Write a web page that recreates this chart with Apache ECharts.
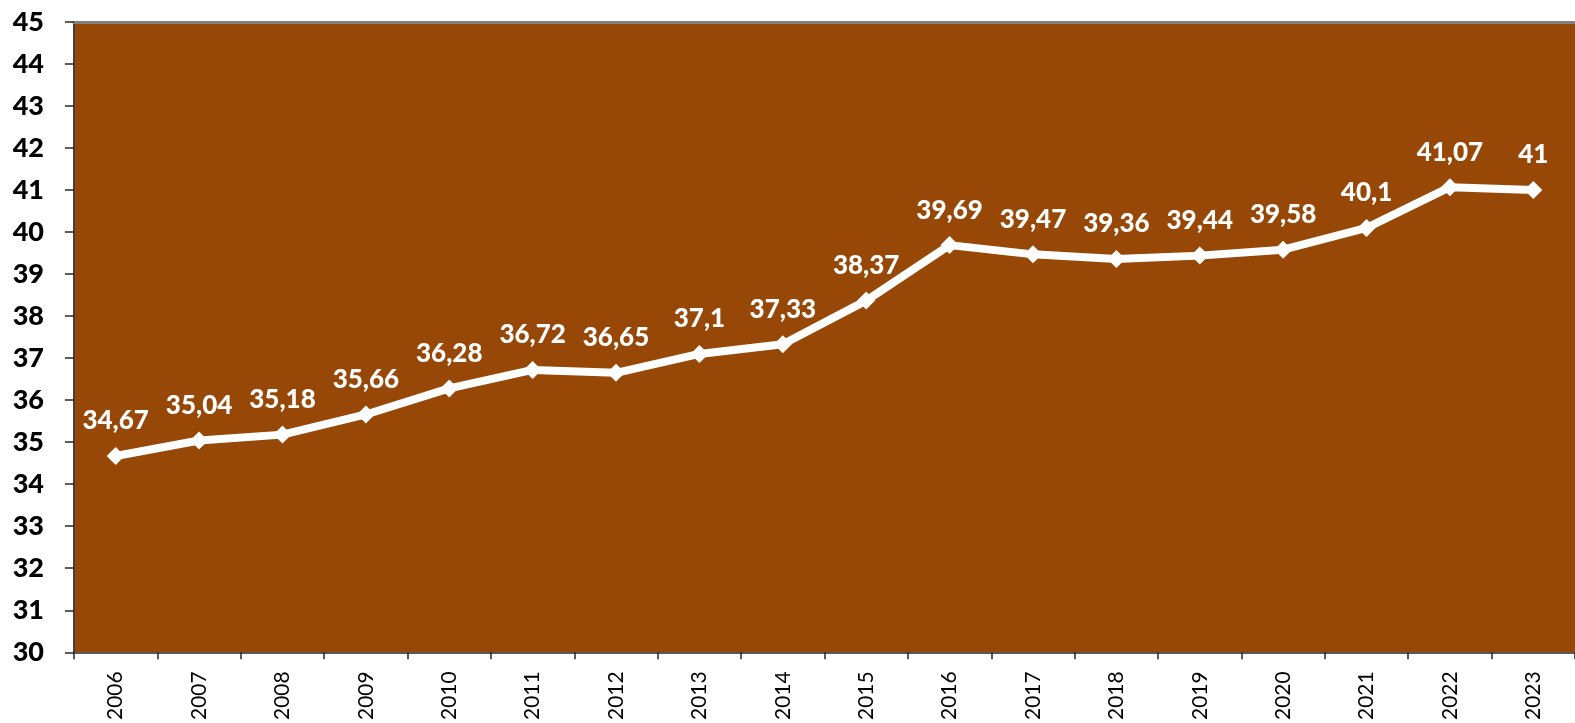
<!DOCTYPE html>
<html>
<head>
<meta charset="utf-8">
<script src="https://cdn.jsdelivr.net/npm/echarts@6/dist/echarts.min.js"></script>
<style>
html,body{margin:0;padding:0;background:#fff;}
#chart{width:1575px;height:723px;}
</style>
</head>
<body>
<div id="chart"></div>
<script>
var years = ['2006','2007','2008','2009','2010','2011','2012','2013','2014','2015','2016','2017','2018','2019','2020','2021','2022','2023'];
var values = [34.67, 35.04, 35.18, 35.66, 36.28, 36.72, 36.65, 37.1, 37.33, 38.37, 39.69, 39.47, 39.36, 39.44, 39.58, 40.1, 41.07, 41];
var yMin = 30, yMax = 45, yStep = 1;

var chart = echarts.init(document.getElementById('chart'), null, {renderer: 'canvas'});
chart.setOption({
  animation: false,
  grid: {
    left: 74, right: -14, top: 22, bottom: 69,
    show: true, backgroundColor: '#974706', borderWidth: 0
  },
  xAxis: [{
    type: 'category',
    data: years,
    boundaryGap: true,
    axisLine: {lineStyle: {color: '#595959', width: 2}},
    axisTick: {show: true, length: 7, lineStyle: {color: '#262626', width: 1.5}},
    axisLabel: {
      rotate: 90, color: '#000', fontFamily: 'Lato', fontSize: 21,
      margin: 19, interval: 0
    }
  }, {
    type: 'category',
    data: years,
    position: 'top',
    axisLine: {lineStyle: {color: '#808080', width: 3}},
    axisTick: {show: false},
    axisLabel: {show: false}
  }],
  yAxis: {
    type: 'value',
    min: yMin, max: yMax, interval: yStep,
    axisLine: {show: true, lineStyle: {color: '#404040', width: 2}},
    axisTick: {show: true, length: 9, lineStyle: {color: '#262626', width: 1.5}},
    splitLine: {show: false},
    axisLabel: {
      color: '#000', fontFamily: 'Lato', fontWeight: 900, fontSize: 27, margin: 30
    }
  },
  series: [{
    type: 'line',
    data: values,
    xAxisIndex: 0,
    symbol: 'diamond',
    symbolSize: 18,
    lineStyle: {color: '#fff', width: 8},
    itemStyle: {color: '#fff'},
    label: {
      show: true, position: 'top', distance: 13,
      color: '#fff', fontFamily: 'Lato', fontWeight: 900, fontSize: 26,
      formatter: function (p) { return String(p.value).replace('.', ','); }
    }
  }]
});
</script>
</body>
</html>
